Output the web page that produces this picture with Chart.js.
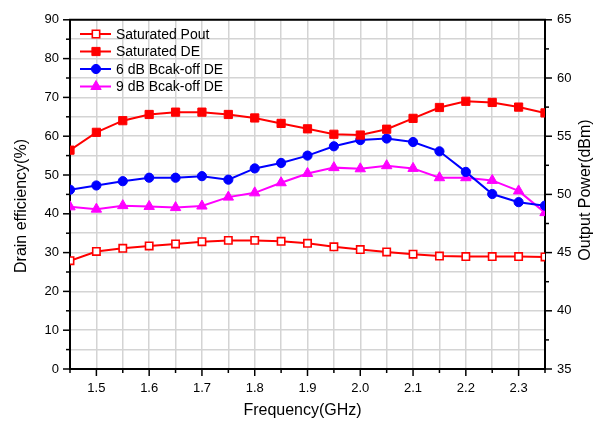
<!DOCTYPE html>
<html>
<head>
<meta charset="utf-8">
<script src="https://cdn.jsdelivr.net/npm/chart.js@4.4.1/dist/chart.umd.min.js"></script>
<style>
  body { margin: 0; background: #fff; }
  canvas { display: block; }
</style>
</head>
<body>
<canvas id="canvas" width="598" height="426"></canvas>
<script>
// frequency points (GHz)
var freqs = [1.45, 1.5, 1.55, 1.6, 1.65, 1.7, 1.75, 1.8, 1.85, 1.9, 1.95, 2.0, 2.05, 2.1, 2.15, 2.2, 2.25, 2.3, 2.35];
// right axis, dBm
var satPout = [44.3, 45.1, 45.37, 45.57, 45.74, 45.94, 46.05, 46.05, 45.97, 45.8, 45.5, 45.26, 45.06, 44.86, 44.7, 44.66, 44.66, 44.66, 44.63];
// left axis, %
var satDE = [56.4, 61.0, 64.0, 65.6, 66.2, 66.2, 65.6, 64.7, 63.3, 61.9, 60.5, 60.3, 61.8, 64.6, 67.4, 69.0, 68.7, 67.5, 66.0];
var de6dB = [46.2, 47.3, 48.4, 49.3, 49.3, 49.7, 48.8, 51.7, 53.1, 55.0, 57.4, 59.0, 59.4, 58.5, 56.1, 50.8, 45.1, 43.0, 42.1];
var de9dB = [41.8, 41.2, 42.1, 41.9, 41.6, 42.0, 44.3, 45.4, 48.0, 50.4, 51.9, 51.6, 52.4, 51.7, 49.3, 49.3, 48.6, 45.9, 40.3];

var seriesNames = ["Saturated Pout", "Saturated DE", "6 dB Bcak-off DE", "9 dB Bcak-off DE"];
var xTitle = "Frequency(GHz)";
var yTitle = "Drain efficiency(%)";
var y2Title = "Output Power(dBm)";

var FONT = "Arial, 'Liberation Sans', sans-serif";

function pts(vals) {
    var out = [];
    for (var i = 0; i < freqs.length; i++) out.push({x: freqs[i], y: vals[i]});
    return out;
}

function near(v, step) {
    var q = v / step;
    return Math.abs(q - Math.round(q)) < 1e-6;
}

// draw a marker for the legend
function drawMarker(ctx, ds, x, y) {
    var r = ds.pointRadius;
    ctx.save();
    ctx.lineWidth = ds.pointBorderWidth;
    ctx.strokeStyle = ds.pointBorderColor;
    ctx.fillStyle = ds.pointBackgroundColor;
    ctx.beginPath();
    if (ds.pointStyle == 'rect') {
        var s = Math.SQRT1_2 * r;
        ctx.rect(x - s, y - s, 2 * s, 2 * s);
    } else if (ds.pointStyle == 'triangle') {
        ctx.moveTo(x, y - r);
        ctx.lineTo(x + r * 0.866, y + r * 0.5);
        ctx.lineTo(x - r * 0.866, y + r * 0.5);
        ctx.closePath();
    } else {
        ctx.arc(x, y, r, 0, Math.PI * 2);
    }
    ctx.fill();
    ctx.stroke();
    ctx.restore();
}

var framePlugin = {
    id: 'frame',
    afterDraw: function(chart) {
        var ctx = chart.ctx;
        var a = chart.chartArea;
        ctx.save();
        ctx.strokeStyle = '#000';
        ctx.lineWidth = 2;
        ctx.beginPath();
        ctx.moveTo(a.left - 1, a.top);
        ctx.lineTo(a.right + 1, a.top);
        ctx.stroke();

        // tick marks, longer at labelled values
        ctx.lineWidth = 1.5;
        var sx = chart.scales.x, sy = chart.scales.y, sy2 = chart.scales.y2;
        sx.ticks.forEach(function(t) {
            var p = sx.getPixelForValue(t.value);
            var len = near(t.value, 0.1) ? 7 : 4;
            ctx.beginPath(); ctx.moveTo(p, a.bottom); ctx.lineTo(p, a.bottom + len); ctx.stroke();
        });
        sy.ticks.forEach(function(t) {
            var p = sy.getPixelForValue(t.value);
            var len = near(t.value, 10) ? 7 : 4;
            ctx.beginPath(); ctx.moveTo(a.left, p); ctx.lineTo(a.left - len, p); ctx.stroke();
        });
        sy2.ticks.forEach(function(t) {
            var p = sy2.getPixelForValue(t.value);
            var len = near(t.value, 5) ? 7 : 4;
            ctx.beginPath(); ctx.moveTo(a.right, p); ctx.lineTo(a.right + len, p); ctx.stroke();
        });

        // axis titles
        ctx.fillStyle = '#000';
        ctx.font = '16px ' + FONT;
        ctx.textAlign = 'center';
        ctx.textBaseline = 'middle';
        ctx.fillText(xTitle, (a.left + a.right) / 2 - 5, 411);
        ctx.save();
        ctx.translate(22, 206);
        ctx.rotate(-Math.PI / 2);
        ctx.fillText(yTitle, 0, 0);
        ctx.restore();
        ctx.save();
        ctx.translate(586, 190);
        ctx.rotate(-Math.PI / 2);
        ctx.fillText(y2Title, 0, 0);
        ctx.restore();

        // legend in the top left corner
        ctx.font = '14px ' + FONT;
        ctx.textAlign = 'left';
        chart.data.datasets.forEach(function(ds, i) {
            var ly = 34 + i * 17.5;
            ctx.strokeStyle = ds.borderColor;
            ctx.lineWidth = 2;
            ctx.beginPath(); ctx.moveTo(80, ly); ctx.lineTo(111, ly); ctx.stroke();
            drawMarker(ctx, ds, 96, ly);
            ctx.fillStyle = '#000';
            ctx.fillText(ds.label, 116, ly + 1);
        });
        ctx.restore();
    }
};

window.onload = function() {
    var ctx = document.getElementById("canvas").getContext("2d");
    new Chart(ctx, {
        type: 'line',
        data: {
            datasets: [{
                label: seriesNames[0],
                data: pts(satPout),
                yAxisID: 'y2',
                borderColor: '#ff0000',
                borderWidth: 2,
                pointStyle: 'rect',
                pointRadius: 5.2,
                pointBorderWidth: 1.6,
                pointBorderColor: '#ff0000',
                pointBackgroundColor: '#ffffff',
                clip: 0
            }, {
                label: seriesNames[1],
                data: pts(satDE),
                yAxisID: 'y',
                borderColor: '#ff0000',
                borderWidth: 2,
                pointStyle: 'rect',
                pointRadius: 5.8,
                pointBorderWidth: 1,
                pointBorderColor: '#ff0000',
                pointBackgroundColor: '#ff0000',
                clip: 0
            }, {
                label: seriesNames[2],
                data: pts(de6dB),
                yAxisID: 'y',
                borderColor: '#0000ff',
                borderWidth: 2,
                pointStyle: 'circle',
                pointRadius: 4.6,
                pointBorderWidth: 1,
                pointBorderColor: '#0000ff',
                pointBackgroundColor: '#0000ff',
                clip: 0
            }, {
                label: seriesNames[3],
                data: pts(de9dB),
                yAxisID: 'y',
                borderColor: '#ff00ff',
                borderWidth: 2,
                pointStyle: 'triangle',
                pointRadius: 6,
                pointBorderWidth: 1,
                pointBorderColor: '#ff00ff',
                pointBackgroundColor: '#ff00ff',
                clip: 0
            }]
        },
        options: {
            responsive: false,
            animation: false,
            devicePixelRatio: 1,
            layout: { padding: { top: 18 } },
            plugins: { legend: { display: false }, tooltip: { enabled: false } },
            elements: { line: { tension: 0 } },
            scales: {
                x: {
                    type: 'linear',
                    min: 1.45, max: 2.35,
                    afterFit: function(s) { s.height = 57; },
                    grid: { color: '#d4d4d4', lineWidth: 1.5, drawTicks: false },
                    border: { color: '#000', width: 2 },
                    ticks: {
                        stepSize: 0.05, autoSkip: false, maxRotation: 0, padding: 12,
                        color: '#000', font: { family: FONT, size: 13 },
                        callback: function(v) { return near(v, 0.1) ? v.toFixed(1) : ''; }
                    }
                },
                y: {
                    position: 'left',
                    min: 0, max: 90,
                    afterFit: function(s) { s.width = 70; },
                    grid: { color: '#d4d4d4', lineWidth: 1.5, drawTicks: false },
                    border: { color: '#000', width: 2 },
                    ticks: {
                        stepSize: 5, autoSkip: false, padding: 11,
                        color: '#000', font: { family: FONT, size: 13 },
                        callback: function(v) { return near(v, 10) ? String(v) : ''; }
                    }
                },
                y2: {
                    position: 'right',
                    min: 35, max: 65,
                    afterFit: function(s) { s.width = 53; },
                    grid: { display: false, drawTicks: false },
                    border: { color: '#000', width: 2 },
                    ticks: {
                        stepSize: 2.5, autoSkip: false, padding: 12,
                        color: '#000', font: { family: FONT, size: 13 },
                        callback: function(v) { return near(v, 5) ? String(v) : ''; }
                    }
                }
            }
        },
        plugins: [framePlugin]
    });
};
</script>
</body>
</html>
